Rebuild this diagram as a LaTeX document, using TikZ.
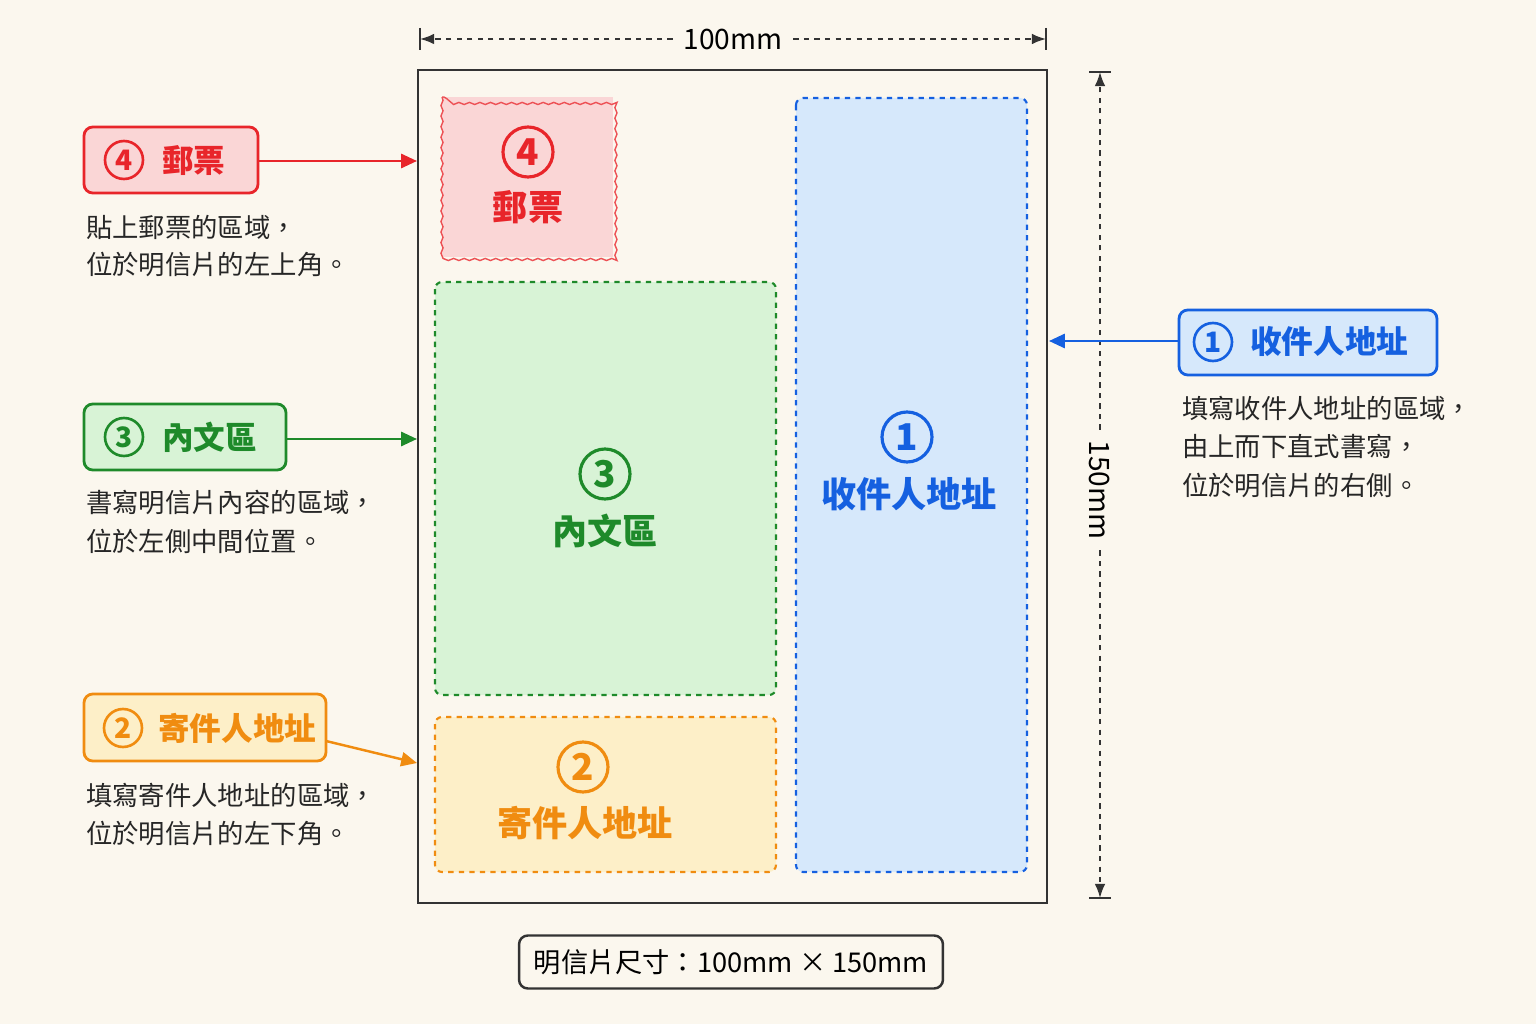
\documentclass[tikz,border=0pt]{standalone}
\usepackage{fontspec}
\setmainfont{Noto Sans CJK TC}
\usetikzlibrary{arrows.meta,decorations.pathmorphing}
\definecolor{bg}{HTML}{FBF7EE}
\definecolor{cred}{HTML}{E8252A}\definecolor{fred}{HTML}{FAD6D6}
\definecolor{cgrn}{HTML}{1E8A2A}\definecolor{fgrn}{HTML}{D8F3D6}
\definecolor{corg}{HTML}{F08C10}\definecolor{forg}{HTML}{FDEFC8}
\definecolor{cblu}{HTML}{1560E0}\definecolor{fblu}{HTML}{D6E8FB}
\definecolor{cgry}{HTML}{333333}
\tikzset{
 area/.style={dashed,line width=1.2pt,rounded corners=4pt},
 lbox/.style={line width=1.6pt,rounded corners=5pt},
 num/.style={circle,line width=1.5pt,inner sep=0pt,minimum size=#1,font=\fontsize{16}{16}\selectfont\bfseries},
 bignum/.style={circle,line width=1.8pt,inner sep=0pt,minimum size=1.0cm,font=\fontsize{21}{21}\selectfont\bfseries},
 ltxt/.style={font=\fontsize{18}{18}\selectfont\bfseries,anchor=west},
 btxt/.style={font=\fontsize{20}{20}\selectfont\bfseries},
 desc/.style={font=\fontsize{15}{15}\selectfont,anchor=west,text=black!85},
 arr/.style={line width=1.4pt,-{Triangle[length=9pt,width=8pt]}},
 dim/.style={dashed,line width=1pt,cgry},
}
\begin{document}
\begin{tikzpicture}[x=0.02cm,y=-0.02cm]
\fill[bg] (0,0) rectangle (1536,1024);
\useasboundingbox (0,0) rectangle (1536,1024);
% card
\draw[line width=1.4pt,cgry,fill=bg] (418,70) rectangle (1047,903);
\coordinate (cardL1) at (417,161);\coordinate (cardL3) at (417,439);\coordinate (cardL2) at (417,763);\coordinate (cardR) at (1049,341);
% stamp
\fill[fred] (442,97) rectangle (613,257);
\draw[cred!80,line width=0.8pt,decorate,decoration={snake,amplitude=0.6pt,segment length=6pt}] (442,97) rectangle (613,257);
\node[bignum,draw=cred,text=cred] (n4) at (528,152) {4};
\node[btxt,text=cred] (t4) at (528,207) {郵票};
% green
\draw[area,draw=cgrn,fill=fgrn] (435,282) rectangle (776,695);
\node[bignum,draw=cgrn,text=cgrn] (n3) at (605,474) {3};
\node[btxt,text=cgrn] (t3) at (605,531) {內文區};
% orange
\draw[area,draw=corg,fill=forg] (435,717) rectangle (776,872);
\node[bignum,draw=corg,text=corg] (n2) at (583,767) {2};
\node[btxt,text=corg] (t2) at (585,823) {寄件人地址};
% blue
\draw[area,draw=cblu,fill=fblu] (796,98) rectangle (1027,872);
\node[bignum,draw=cblu,text=cblu] (n1) at (907,437) {1};
\node[btxt,text=cblu] (t1) at (909,494) {收件人地址};
% top dim
\coordinate (dl) at (420,39);\coordinate (dr) at (1046,39);
\draw[line width=1.2pt,cgry] (420,28)--(420,50) (1046,28)--(1046,50);
\node[font=\fontsize{16}{16}\selectfont,fill=bg,inner xsep=6pt] (w) at (733,39) {100mm};
\draw[dim,-{Latex[length=8pt]}] (w.west)--(dl);
\draw[dim,-{Latex[length=8pt]}] (w.east)--(dr);
% right dim
\coordinate (dt) at (1100,72);\coordinate (db) at (1100,898);
\draw[line width=1.2pt,cgry] (1089,72)--(1111,72) (1089,898)--(1111,898);
\node[font=\fontsize{16}{16}\selectfont,fill=bg,inner xsep=6pt,rotate=-90] (h) at (1100,490) {150mm};
\draw[dim,-{Latex[length=8pt]}] (h.west)--(dt);
\draw[dim,-{Latex[length=8pt]}] (h.east)--(db);
% label 4
\draw[lbox,draw=cred,fill=fred] (84,127) rectangle (258,193);
\node[num=0.76cm,draw=cred,text=cred] (l4n) at (124,160) {4};
\node[ltxt,text=cred] (l4t) at (156,160) {郵票};
\coordinate (l4a) at (258,161);
\draw[arr,cred] (l4a)--(cardL1);
\node[desc] (d4a) at (80,227) {貼上郵票的區域，};
\node[desc] (d4b) at (80,264) {位於明信片的左上角。};
% label 3
\draw[lbox,draw=cgrn,fill=fgrn] (84,404) rectangle (286,470);
\node[num=0.76cm,draw=cgrn,text=cgrn] (l3n) at (124,437) {3};
\node[ltxt,text=cgrn] (l3t) at (156,437) {內文區};
\coordinate (l3a) at (286,439);
\draw[arr,cgrn] (l3a)--(cardL3);
\node[desc] (d3a) at (80,502) {書寫明信片內容的區域，};
\node[desc] (d3b) at (80,541) {位於左側中間位置。};
% label 2
\draw[lbox,draw=corg,fill=forg] (84,694) rectangle (326,761);
\node[num=0.76cm,draw=corg,text=corg] (l2n) at (123,728) {2};
\node[ltxt,text=corg] (l2t) at (152,728) {寄件人地址};
\coordinate (l2a) at (326,741);
\draw[arr,corg] (l2a)--(cardL2);
\node[desc] (d2a) at (80,795) {填寫寄件人地址的區域，};
\node[desc] (d2b) at (80,833) {位於明信片的左下角。};
% label 1
\draw[lbox,draw=cblu,fill=fblu] (1179,310) rectangle (1437,375);
\node[num=0.76cm,draw=cblu,text=cblu] (l1n) at (1213,342) {1};
\node[ltxt,text=cblu] (l1t) at (1244,342) {收件人地址};
\coordinate (l1a) at (1179,341);
\draw[arr,cblu] (l1a)--(cardR);
\node[desc] (d1a) at (1176,408) {填寫收件人地址的區域，};
\node[desc] (d1b) at (1176,446) {由上而下直式書寫，};
\node[desc] (d1c) at (1176,485) {位於明信片的右側。};
% bottom
\node[draw=cgry,line width=1.4pt,rounded corners=5pt,minimum width=8.48cm,minimum height=1.06cm,font=\fontsize{15.5}{15.5}\selectfont,fill=bg] (sz) at (731,962) {明信片尺寸：100mm × 150mm};
\end{tikzpicture}
\end{document}
